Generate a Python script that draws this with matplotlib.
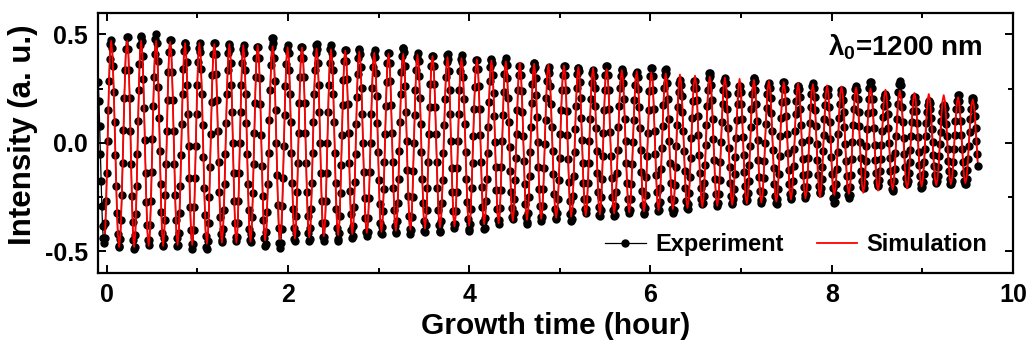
import matplotlib
matplotlib.use("Agg")
import matplotlib.pyplot as plt
from matplotlib.ticker import MultipleLocator, FormatStrFormatter

# ---------------- data ----------------
# times (hour) of successive intensity maxima (first one is the partial lead-in cycle)
peak_t = [-0.110,
          0.048, 0.225, 0.379, 0.545, 0.699, 0.864, 1.022, 1.187, 1.353, 1.507,
          1.665, 1.830, 1.996, 2.154, 2.315, 2.474, 2.632, 2.786, 2.952, 3.109,
          3.271, 3.429, 3.594, 3.760, 3.914, 4.084, 4.245, 4.403, 4.558, 4.716,
          4.873, 5.046, 5.204, 5.366, 5.516, 5.683, 5.848, 6.009, 6.168, 6.325,
          6.491, 6.653, 6.821, 6.983, 7.141, 7.306, 7.471, 7.629, 7.792, 7.949,
          8.108, 8.269, 8.428, 8.593, 8.751, 8.913, 9.071, 9.236, 9.394, 9.556]

# experiment: value at each maximum, and at the minimum that follows it
exp_peak = [0.36,
            0.477, 0.500, 0.492, 0.503, 0.485, 0.462, 0.462, 0.473, 0.454, 0.454,
            0.454, 0.485, 0.454, 0.454, 0.454, 0.454, 0.438, 0.431, 0.431, 0.423,
            0.438, 0.415, 0.408, 0.408, 0.408, 0.392, 0.385, 0.392, 0.362, 0.369,
            0.354, 0.362, 0.346, 0.339, 0.362, 0.339, 0.331, 0.354, 0.339, 0.293,
            0.293, 0.323, 0.300, 0.269, 0.300, 0.277, 0.285, 0.262, 0.277, 0.254,
            0.246, 0.262, 0.285, 0.223, 0.285, 0.215, 0.192, 0.177, 0.223, 0.208]
exp_trough = [-0.460,
              -0.485, -0.492, -0.469, -0.480, -0.480, -0.490, -0.492, -0.460, -0.454, -0.460,
              -0.477, -0.485, -0.454, -0.454, -0.454, -0.454, -0.440, -0.430, -0.425, -0.420,
              -0.420, -0.415, -0.415, -0.392, -0.408, -0.400, -0.375, -0.352, -0.375, -0.361,
              -0.352, -0.361, -0.323, -0.340, -0.338, -0.323, -0.330, -0.315, -0.323, -0.307,
              -0.284, -0.292, -0.284, -0.269, -0.277, -0.284, -0.261, -0.254, -0.231, -0.277,
              -0.254, -0.208, -0.200, -0.223, -0.192, -0.208, -0.185, -0.192, -0.192, -0.190]

# simulation: value at each maximum, and at the minimum that follows it
sim_peak = [0.470,
            0.470, 0.470, 0.470, 0.470, 0.465, 0.460, 0.460, 0.455, 0.455, 0.450,
            0.450, 0.445, 0.440, 0.440, 0.435, 0.430, 0.425, 0.420, 0.415, 0.410,
            0.410, 0.405, 0.400, 0.395, 0.390, 0.385, 0.380, 0.375, 0.370, 0.365,
            0.360, 0.355, 0.350, 0.345, 0.340, 0.335, 0.330, 0.325, 0.320, 0.315,
            0.310, 0.305, 0.300, 0.295, 0.290, 0.285, 0.280, 0.275, 0.270, 0.265,
            0.260, 0.255, 0.250, 0.245, 0.240, 0.230, 0.225, 0.220, 0.210, 0.200]
sim_trough = [-0.480,
              -0.480, -0.480, -0.475, -0.475, -0.470, -0.470, -0.465, -0.460, -0.460, -0.455,
              -0.450, -0.445, -0.440, -0.435, -0.430, -0.425, -0.420, -0.415, -0.410, -0.405,
              -0.400, -0.395, -0.390, -0.385, -0.380, -0.375, -0.370, -0.360, -0.355, -0.350,
              -0.345, -0.340, -0.335, -0.330, -0.325, -0.320, -0.315, -0.310, -0.305, -0.300,
              -0.295, -0.290, -0.285, -0.280, -0.275, -0.270, -0.260, -0.255, -0.250, -0.240,
              -0.235, -0.230, -0.220, -0.215, -0.210, -0.200, -0.195, -0.190, -0.185, -0.180]

# position of the samples inside one max-to-max cycle and their relative height
# (1 = at the maximum, 0 = at the minimum); three interleaved sampling patterns
exp_phase_a = [0.0, 0.05, 0.1, 0.15, 0.2, 0.25, 0.3, 0.35, 0.4, 0.45,
               0.5, 0.55, 0.6, 0.65, 0.7, 0.75, 0.8, 0.85, 0.9, 0.95]
exp_level_a = [1.0, 0.976, 0.905, 0.794, 0.655, 0.5, 0.345, 0.206, 0.095, 0.024,
               0.0, 0.024, 0.095, 0.206, 0.345, 0.5, 0.655, 0.794, 0.905, 0.976]
exp_phase_b = [0.0167, 0.0667, 0.1167, 0.1667, 0.2167, 0.2667, 0.3167, 0.3667, 0.4167, 0.4667,
               0.5167, 0.5667, 0.6167, 0.6667, 0.7167, 0.7667, 0.8167, 0.8667, 0.9167, 0.9667]
exp_level_b = [0.997, 0.957, 0.872, 0.750, 0.604, 0.448, 0.297, 0.166, 0.067, 0.011,
               0.003, 0.043, 0.129, 0.250, 0.396, 0.552, 0.703, 0.834, 0.933, 0.989]
exp_phase_c = [0.0333, 0.0833, 0.1333, 0.1833, 0.2333, 0.2833, 0.3333, 0.3833, 0.4333, 0.4833,
               0.5333, 0.5833, 0.6333, 0.6833, 0.7333, 0.7833, 0.8333, 0.8833, 0.9333, 0.9833]
exp_level_c = [0.989, 0.933, 0.834, 0.703, 0.552, 0.396, 0.250, 0.129, 0.043, 0.003,
               0.011, 0.067, 0.166, 0.297, 0.448, 0.604, 0.750, 0.871, 0.957, 0.997]
sim_phase = [0.0, 0.0833, 0.1667, 0.25, 0.3333, 0.4167,
             0.5, 0.5833, 0.6667, 0.75, 0.8333, 0.9167]
sim_level = [1.0, 0.933, 0.75, 0.5, 0.25, 0.067,
             0.0, 0.067, 0.25, 0.5, 0.75, 0.933]

exp_t_range = (-0.10, 9.615)
sim_t_range = (-0.03, 9.615)
annotation = "λ$_\\mathregular{0}$=1200 nm"


def build(peaks, troughs, patterns, t_range):
    ts, vs = [], []
    n = len(peak_t)
    for i in range(n):
        t0 = peak_t[i]
        t1 = peak_t[i + 1] if i + 1 < n else t0 + (peak_t[i] - peak_t[i - 1])
        p_next = peaks[i + 1] if i + 1 < n else peaks[i]
        ph, lv = patterns[i % len(patterns)]
        for f, w in zip(ph, lv):
            top = peaks[i] if f < 0.5 else p_next
            t = t0 + f * (t1 - t0)
            if t_range[0] <= t <= t_range[1]:
                ts.append(t)
                vs.append(troughs[i] + (top - troughs[i]) * w)
    return ts, vs


exp_t, exp_v = build(exp_peak, exp_trough,
                     [(exp_phase_a, exp_level_a), (exp_phase_b, exp_level_b),
                      (exp_phase_c, exp_level_c)], exp_t_range)
sim_t, sim_v = build(sim_peak, sim_trough, [(sim_phase, sim_level)], sim_t_range)

# ---------------- style ----------------
plt.rcParams.update({
    "font.family": ["Liberation Sans", "DejaVu Sans"],
    "font.weight": "bold",
    "axes.unicode_minus": False,
    "mathtext.fontset": "custom",
    "mathtext.rm": "Liberation Sans:bold",
    "mathtext.it": "Liberation Sans:bold",
    "mathtext.bf": "Liberation Sans:bold",
})

fig = plt.figure(figsize=(10.33, 3.47), dpi=100)
ax = fig.add_axes([0.0946, 0.2133, 0.886, 0.750])

ax.plot(exp_t, exp_v, color="black", lw=0.9, marker="o", ms=5,
        mfc="black", mec="black", label="Experiment", zorder=2)
ax.plot(sim_t, sim_v, color="red", lw=1.3, label="Simulation", zorder=3)

ax.set_xlim(-0.1, 10)
ax.set_ylim(-0.6, 0.6)
ax.xaxis.set_major_locator(MultipleLocator(2))
ax.xaxis.set_minor_locator(MultipleLocator(1))
ax.yaxis.set_major_locator(MultipleLocator(0.5))
ax.yaxis.set_minor_locator(MultipleLocator(0.25))
ax.yaxis.set_major_formatter(FormatStrFormatter("%.1f"))

ax.tick_params(which="both", direction="in", top=True, right=True, width=1.4,
               labelsize=18, pad=7)
ax.tick_params(which="major", length=6)
ax.tick_params(which="minor", length=3.5)
for sp in ax.spines.values():
    sp.set_linewidth(1.6)

ax.set_xlabel("Growth time (hour)", fontsize=21.5, fontweight="bold", va="center")
ax.set_ylabel("Intensity (a. u.)", fontsize=22.5, fontweight="bold", va="center")
ax.xaxis.set_label_coords(0.5007, -0.2036)
ax.yaxis.set_label_coords(-0.0816, 0.532)

ax.text(0.967, 0.8375, annotation, transform=ax.transAxes, ha="right",
        va="baseline", fontsize=20, fontweight="bold")

ax.legend(loc="center right", bbox_to_anchor=(0.9716, 0.1076), ncol=2,
          frameon=False, fontsize=17, handlelength=1.7, handletextpad=0.4,
          columnspacing=1.4, borderpad=0, borderaxespad=0)

fig.savefig("out.png", dpi=100)
